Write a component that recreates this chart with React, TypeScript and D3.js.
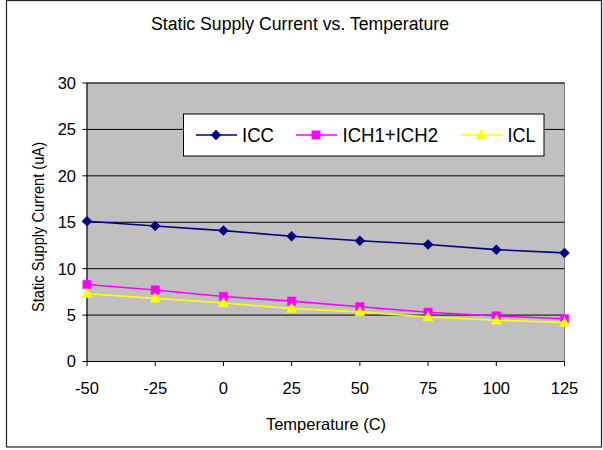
import * as d3 from "d3";

const TEMPERATURES = [-50, -25, 0, 25, 50, 75, 100, 125];
const ICC = [15.1, 14.6, 14.1, 13.5, 13.0, 12.6, 12.05, 11.7];
const ICH = [8.3, 7.7, 7.0, 6.5, 5.9, 5.3, 4.9, 4.6];
const ICL = [7.3, 6.8, 6.3, 5.7, 5.35, 4.8, 4.45, 4.2];
const Y_TICKS = [0, 5, 10, 15, 20, 25, 30];
const SERIES_NAMES = ["ICC", "ICH1+ICH2", "ICL"];

const WIDTH = 603;
const HEIGHT = 450;
const PLOT = { left: 87, top: 83, right: 564.5, bottom: 361.5 };
const FONT = "'Liberation Sans', Arial, sans-serif";

type Marker = "diamond" | "square" | "triangle";

const SERIES: { name: string; values: number[]; color: string; marker: Marker }[] = [
  { name: SERIES_NAMES[0], values: ICC, color: "#000080", marker: "diamond" },
  { name: SERIES_NAMES[1], values: ICH, color: "#ff00ff", marker: "square" },
  { name: SERIES_NAMES[2], values: ICL, color: "#ffff00", marker: "triangle" },
];

function markerPath(kind: Marker) {
  if (kind === "diamond") return "M0,-5L5,0L0,5L-5,0Z";
  if (kind === "square") return "M-4.2,-4.2H4.2V4.2H-4.2Z";
  return "M0,-5.5L5,4L-5,4Z";
}

function MarkerShape({ kind, color, x, y }: { kind: Marker; color: string; x: number; y: number }) {
  return <path d={markerPath(kind)} transform={`translate(${x},${y})`} fill={color} stroke={color} strokeWidth={0.5} />;
}

export default function App() {
  const x = d3
    .scalePoint<number>()
    .domain(TEMPERATURES)
    .range([PLOT.left, PLOT.right]);
  const y = d3.scaleLinear().domain([0, 30]).range([PLOT.bottom, PLOT.top]);

  const line = d3
    .line<number>()
    .x((_, i) => x(TEMPERATURES[i]) as number)
    .y((d) => y(d));

  // excel squeezes its text a bit, so legend widths are pinned
  const legendItems = [
    { lineX: 196, textX: 242, textLen: 32 },
    { lineX: 296, textX: 342.5, textLen: 95.5 },
    { lineX: 461, textX: 507.5, textLen: 28 },
  ];
  const legendY = 135;

  return (
    <svg
      width={WIDTH}
      height={HEIGHT}
      style={{ position: "absolute", left: 0, top: 0, background: "#fff" }}
      fontFamily={FONT}
    >
      <rect x={6.5} y={0.5} width={595} height={446.5} fill="#fff" stroke="#222" strokeWidth={1.2} />

      <text
        x={300}
        y={30}
        textAnchor="middle"
        fontSize={18}
        textLength={298}
        lengthAdjust="spacingAndGlyphs"
        fill="#000"
      >
        Static Supply Current vs. Temperature
      </text>

      {/* plot area */}
      <rect
        x={PLOT.left}
        y={PLOT.top}
        width={PLOT.right - PLOT.left}
        height={PLOT.bottom - PLOT.top}
        fill="#c0c0c0"
        stroke="#808080"
        strokeWidth={1}
      />
      {Y_TICKS.filter((t) => t > 0).map((t) => (
        <line key={t} x1={PLOT.left} x2={PLOT.right} y1={y(t)} y2={y(t)} stroke="#000" strokeWidth={1} />
      ))}

      {/* axes */}
      <line x1={PLOT.left} x2={PLOT.left} y1={PLOT.top} y2={PLOT.bottom} stroke="#000" />
      <line x1={PLOT.left} x2={PLOT.right} y1={PLOT.bottom} y2={PLOT.bottom} stroke="#000" />
      {Y_TICKS.map((t) => (
        <g key={t}>
          <line x1={PLOT.left - 4.5} x2={PLOT.left} y1={y(t)} y2={y(t)} stroke="#000" />
          <text x={76} y={y(t)} dy="0.36em" textAnchor="end" fontSize={16.5}>
            {t}
          </text>
        </g>
      ))}
      {TEMPERATURES.map((t) => (
        <g key={t}>
          <line x1={x(t)} x2={x(t)} y1={PLOT.bottom} y2={PLOT.bottom + 4.5} stroke="#000" />
          <text x={x(t)} y={388.5} dy="0.36em" textAnchor="middle" fontSize={16.5}>
            {t}
          </text>
        </g>
      ))}

      <text x={326} y={430} textAnchor="middle" fontSize={16.5}>
        Temperature (C)
      </text>
      <text
        transform={`translate(37.5,227) rotate(-90)`}
        textAnchor="middle"
        dy="0.36em"
        fontSize={17}
        textLength={170}
        lengthAdjust="spacingAndGlyphs"
      >
        Static Supply Current (uA)
      </text>

      {/* series */}
      {SERIES.map((s) => (
        <g key={s.name}>
          <path d={line(s.values) ?? ""} fill="none" stroke={s.color} strokeWidth={1.6} />
          {s.values.map((v, i) => (
            <MarkerShape key={i} kind={s.marker} color={s.color} x={x(TEMPERATURES[i]) as number} y={y(v)} />
          ))}
        </g>
      ))}

      {/* legend */}
      <rect x={183.5} y={114} width={360.5} height={42} fill="#fff" stroke="#000" strokeWidth={1} />
      {SERIES.map((s, i) => (
        <g key={s.name}>
          <line
            x1={legendItems[i].lineX}
            x2={legendItems[i].lineX + 41}
            y1={legendY}
            y2={legendY}
            stroke={s.color}
            strokeWidth={1.6}
          />
          <MarkerShape kind={s.marker} color={s.color} x={legendItems[i].lineX + 20} y={legendY} />
          <text
            x={legendItems[i].textX}
            y={legendY}
            dy="0.36em"
            fontSize={20}
            textLength={legendItems[i].textLen}
            lengthAdjust="spacingAndGlyphs"
          >
            {s.name}
          </text>
        </g>
      ))}
    </svg>
  );
}
